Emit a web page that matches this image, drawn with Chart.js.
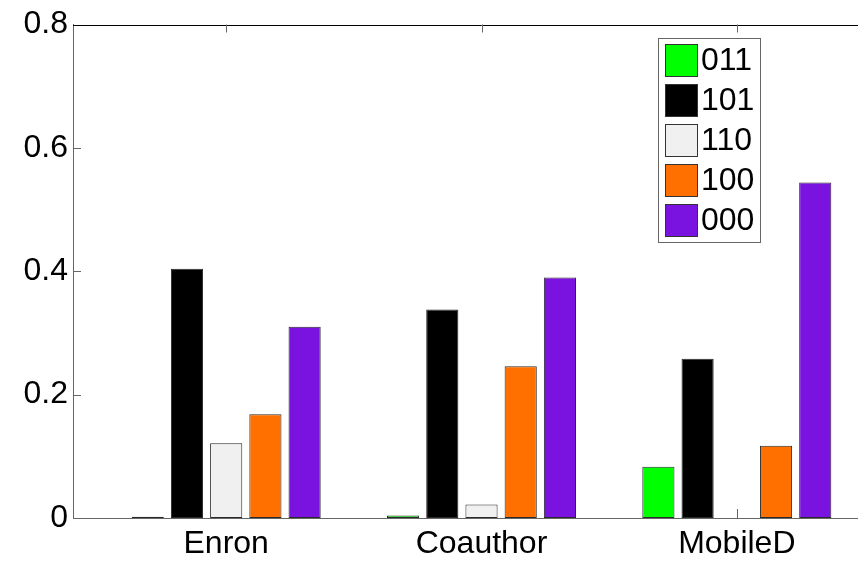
<!DOCTYPE html>
<html>
<head>
<meta charset="utf-8">
<script src="https://cdn.jsdelivr.net/npm/chart.js@4"></script>
<style>
  html, body { margin: 0; padding: 0; background: #fff; overflow: hidden; }
  #wrap { width: 900px; height: 569px; position: relative; }
</style>
</head>
<body>
<div id="wrap"><canvas id="myChart"></canvas></div>
<script>
// data
var categories = ["Enron", "Coauthor", "MobileD"];
var seriesNames = ["011", "101", "110", "100", "000"];
var s011 = [0.002, 0.004, 0.083];
var s101 = [0.404, 0.338, 0.258];
var s110 = [0.121, 0.022, 0];
var s100 = [0.168, 0.246, 0.117];
var s000 = [0.310, 0.390, 0.544];
var yTicks = [0, 0.2, 0.4, 0.6, 0.8];

var colors = ["#00ff00", "#000000", "#f0f0f0", "#ff7000", "#7a12e0"];
var allSeries = [s011, s101, s110, s100, s000];
var font = "'Liberation Sans', Arial, sans-serif";

var datasets = [];
for (let i = 0; i < allSeries.length; i++) {
  datasets.push({
    label: seriesNames[i],
    data: allSeries[i].map((v, k) => ({ x: k + 1, y: v })),
    backgroundColor: colors[i],
    borderColor: "#2a2a2a",
    borderWidth: 1,
    borderSkipped: false,
    categoryPercentage: 0.768,
    barPercentage: 0.82,
  });
}

// box top line, inward ticks (under the bars), legend inside the plot
const matlabBits = {
  id: "matlabBits",
  beforeDatasetsDraw(chart) {
    const ctx = chart.ctx;
    const a = chart.chartArea;
    const xs = chart.scales.x;
    const ys = chart.scales.y;
    ctx.save();
    ctx.lineWidth = 1;
    ctx.strokeStyle = "#000";
    ctx.beginPath();
    ctx.moveTo(a.left, Math.round(a.top) + 0.5);
    ctx.lineTo(a.right, Math.round(a.top) + 0.5);
    ctx.stroke();

    ctx.strokeStyle = "#666";
    ctx.beginPath();
    yTicks.forEach((t) => {
      if (t === 0 || t === 0.8) return;
      const py = Math.round(ys.getPixelForValue(t)) + 0.5;
      ctx.moveTo(a.left, py);
      ctx.lineTo(a.left + 8, py);
    });
    for (let k = 1; k <= categories.length; k++) {
      const px = Math.round(xs.getPixelForValue(k)) + 0.5;
      ctx.moveTo(px, a.bottom);
      ctx.lineTo(px, a.bottom - 9);
      ctx.moveTo(px, a.top);
      ctx.lineTo(px, a.top + 8);
    }
    ctx.stroke();
    ctx.restore();
  },
  afterDraw(chart) {
    const ctx = chart.ctx;
    ctx.save();
    const lx = 658.5, ly = 38.5, lw = 102, lh = 204;
    ctx.fillStyle = "#fff";
    ctx.fillRect(lx, ly, lw, lh);
    ctx.lineWidth = 1;
    ctx.strokeStyle = "#666";
    ctx.strokeRect(lx, ly, lw, lh);
    ctx.font = "32px " + font;
    ctx.textBaseline = "middle";
    ctx.textAlign = "left";
    chart.data.datasets.forEach((ds, i) => {
      const sy = 44.5 + i * 40;
      ctx.fillStyle = ds.backgroundColor;
      ctx.fillRect(665.5, sy, 32, 32);
      ctx.strokeStyle = "#333";
      ctx.strokeRect(665.5, sy, 32, 32);
      ctx.fillStyle = "#000";
      ctx.fillText(ds.label, 701, sy + 17);
    });
    ctx.restore();
  },
};

var ctx = document.getElementById("myChart");
var myChart = new Chart(ctx, {
  type: "bar",
  data: { datasets: datasets },
  options: {
    responsive: true,
    maintainAspectRatio: false,
    animation: false,
    layout: { padding: { top: 24.5, right: 10, left: 0, bottom: 0 } },
    plugins: {
      legend: { display: false },
      tooltip: { enabled: false },
    },
    scales: {
      x: {
        type: "linear",
        min: 0.4,
        max: 3.6,
        offset: false,
        afterBuildTicks: (s) => { s.ticks = categories.map((c, k) => ({ value: k + 1 })); },
        afterFit: (s) => { s.height = 51; },
        grid: { display: false, drawTicks: false, offset: false },
        border: { display: true, color: "#666", width: 1 },
        ticks: {
          color: "#000",
          font: { family: font, size: 32 },
          padding: 7,
          maxRotation: 0,
          autoSkip: false,
          callback: (v) => categories[v - 1],
        },
      },
      y: {
        min: 0,
        max: 0.8,
        afterBuildTicks: (s) => { s.ticks = yTicks.map((v) => ({ value: v })); },
        afterFit: (s) => { s.width = 73; },
        grid: { display: false, drawTicks: false },
        border: { display: true, color: "#666", width: 1 },
        ticks: {
          color: "#000",
          font: { family: font, size: 32 },
          padding: 5,
          callback: (v) => String(v),
        },
      },
    },
  },
  plugins: [matlabBits],
});
</script>
</body>
</html>
